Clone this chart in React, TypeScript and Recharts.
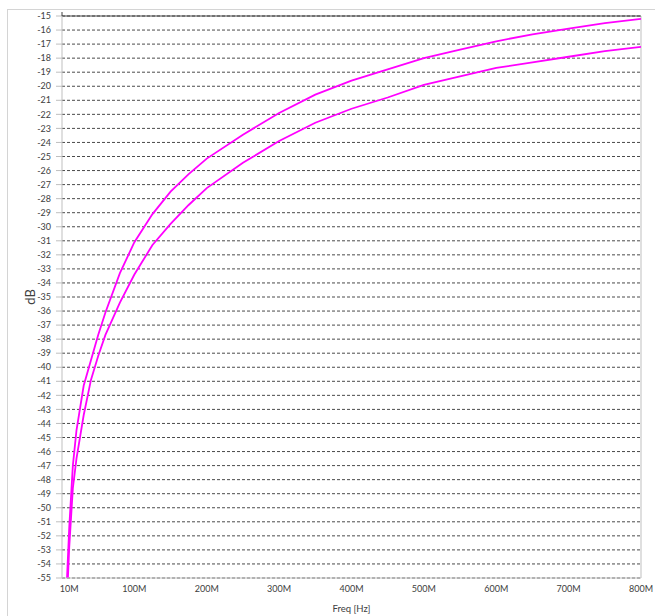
import {
  LineChart,
  Line,
  XAxis,
  YAxis,
  CartesianGrid,
  ReferenceLine,
  Label,
} from "recharts";

// frequency points in MHz
const freqMHz = [
  5, 10, 15, 20, 30, 40, 50, 60, 80, 100, 125, 150, 175, 200, 250, 300, 350,
  400, 450, 500, 550, 600, 650, 700, 750, 800,
];
const upperDb = [
  -57.3, -51.4, -47.0, -44.5, -41.3, -39.5, -37.7, -36.1, -33.3, -31.1, -29.1,
  -27.5, -26.25, -25.15, -23.45, -21.9, -20.6, -19.6, -18.8, -18.0, -17.4,
  -16.8, -16.3, -15.9, -15.5, -15.2,
];
const lowerDb = [
  -58.8, -52.8, -48.6, -46.5, -43.4, -40.9, -39.2, -37.7, -35.4, -33.4, -31.3,
  -29.8, -28.45, -27.25, -25.45, -23.9, -22.6, -21.6, -20.8, -19.9, -19.3,
  -18.7, -18.3, -17.9, -17.5, -17.2,
];
const freqTicksMHz = [10, 100, 200, 300, 400, 500, 600, 700, 800];
const dbTicks = [
  -15, -16, -17, -18, -19, -20, -21, -22, -23, -24, -25, -26, -27, -28, -29,
  -30, -31, -32, -33, -34, -35, -36, -37, -38, -39, -40, -41, -42, -43, -44,
  -45, -46, -47, -48, -49, -50, -51, -52, -53, -54, -55,
];
// minor tick marks on the top axis, every 20M
const minorTicks = Array.from({ length: 41 }, (_, i) => i * 20e6);

const data = freqMHz.map((f, i) => ({
  freq: f * 1e6,
  upper: upperDb[i],
  lower: lowerDb[i],
}));

const TEXT = "#404040";
const AXIS_GRAY = "#bfbfbf";

function TopTick(props: any) {
  const { x, y, payload } = props;
  const major = payload.value % 100e6 === 0;
  return (
    <line
      x1={x}
      x2={x}
      y1={y}
      y2={y - (major ? 4 : 2)}
      stroke="#404040"
      strokeWidth={1}
    />
  );
}

function DbLabel(props: any) {
  const vb = props.viewBox;
  const cx = vb.x + 8;
  const cy = vb.y + vb.height / 2;
  return (
    <text
      x={cx}
      y={cy}
      transform={`rotate(-90 ${cx} ${cy})`}
      textAnchor="middle"
      dominantBaseline="central"
      fill={TEXT}
      fontSize={13}
    >
      dB
    </text>
  );
}

export default function App() {
  return (
    <div
      style={{
        position: "absolute",
        left: 0,
        top: 0,
        width: 655,
        height: 616,
        overflow: "hidden",
        background: "#fff",
        fontFamily: "Lato, 'Open Sans', sans-serif",
      }}
    >
      <div
        style={{
          position: "absolute",
          left: 7,
          top: 9,
          width: 700,
          height: 700,
          border: "1px solid #d4d4d4",
        }}
      />
      <div style={{ position: "absolute", left: 0, top: 0 }}>
        <LineChart
          width={655}
          height={616}
          data={data}
          margin={{ top: 10, right: 14, bottom: 0, left: 22 }}
        >
          <CartesianGrid
            vertical={false}
            stroke="#4a4a4a"
            strokeDasharray="3 2"
          />
          <XAxis
            dataKey="freq"
            type="number"
            domain={[0, 800e6]}
            allowDataOverflow
            ticks={freqTicksMHz.map((f) => f * 1e6)}
            tickFormatter={(v) => `${v / 1e6}M`}
            interval={0}
            height={38}
            axisLine={{ stroke: AXIS_GRAY }}
            tickLine={false}
            tick={{ fill: TEXT, fontSize: 9 }}
          >
            <Label
              value="Freq [Hz]"
              position="insideBottom"
              offset={4}
              fill={TEXT}
              fontSize={9.5}
            />
          </XAxis>
          <XAxis
            xAxisId="top"
            orientation="top"
            type="number"
            domain={[0, 800e6]}
            ticks={minorTicks}
            interval={0}
            height={6}
            tickSize={0}
            tickMargin={0}
            tickLine={false}
            axisLine={{ stroke: "#404040" }}
            tick={TopTick}
          />
          <YAxis
            type="number"
            domain={[-55, -15]}
            allowDataOverflow
            ticks={dbTicks}
            interval={0}
            width={40}
            tickSize={6}
            tickMargin={5}
            axisLine={{ stroke: AXIS_GRAY }}
            tickLine={{ stroke: AXIS_GRAY }}
            tick={{ fill: TEXT, fontSize: 9 }}
          >
            <Label content={DbLabel} />
          </YAxis>
          <ReferenceLine x={800e6} stroke={AXIS_GRAY} />
          <Line
            type="linear"
            dataKey="upper"
            stroke="#ff00ff"
            strokeWidth={1.8}
            dot={false}
            isAnimationActive={false}
          />
          <Line
            type="linear"
            dataKey="lower"
            stroke="#ff00ff"
            strokeWidth={1.8}
            dot={false}
            isAnimationActive={false}
          />
        </LineChart>
      </div>
    </div>
  );
}
